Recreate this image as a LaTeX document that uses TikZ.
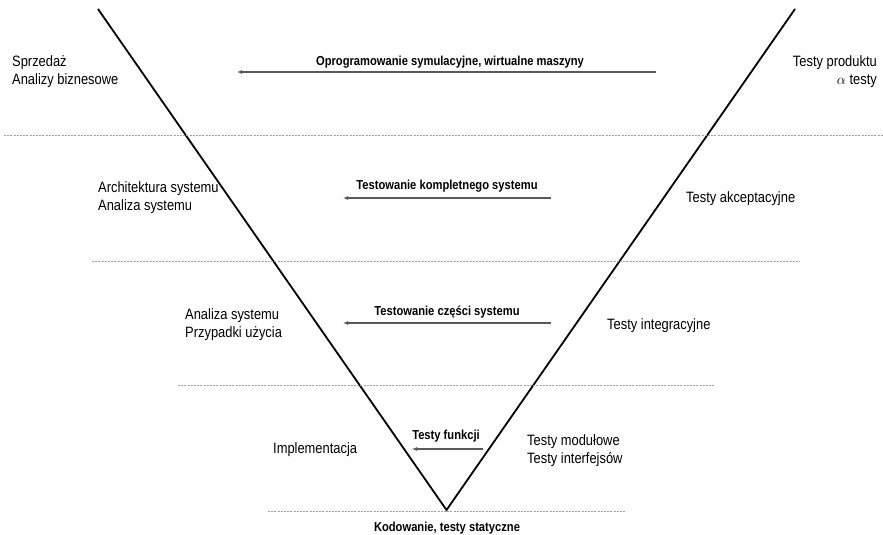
\documentclass[tikz,border=0pt]{standalone}
\usepackage{fontspec}
\setmainfont{Liberation Sans}[FakeStretch=0.86]
\usetikzlibrary{arrows.meta}
\tikzset{
  vline/.style={line width=1.8pt, black},
  level/.style={gray!75, line width=0.9pt, dash pattern=on 2pt off 1.2pt},
  flow/.style={draw=black!65, line width=1.3pt, -{Latex[length=5pt,width=4pt]}},
  phase/.style={inner sep=0pt, font=\fontsize{15}{18}\selectfont, align=left},
  phaser/.style={inner sep=0pt, font=\fontsize{15}{18}\selectfont, align=right},
  flowlabel/.style={inner sep=0pt, font=\fontsize{13}{15}\selectfont\bfseries, anchor=base}
}
\begin{document}
\begin{tikzpicture}[x=1pt,y=-1pt]
\useasboundingbox (0,0) rectangle (883,535);
% V shape
\coordinate (vtl) at (98,9);
\coordinate (vb) at (446.5,510);
\coordinate (vtr) at (795,9);
\draw[vline, line join=miter] (vtl) -- (vb) -- (vtr);
% level lines
\coordinate (l1a) at (4,135); \coordinate (l1b) at (883,135);
\coordinate (l2a) at (92,261); \coordinate (l2b) at (800,261);
\coordinate (l3a) at (178,385); \coordinate (l3b) at (715,385);
\coordinate (l4a) at (268,511); \coordinate (l4b) at (625,511);
\draw[level] (l1a) -- (l1b);
\draw[level] (l2a) -- (l2b);
\draw[level] (l3a) -- (l3b);
\draw[level] (l4a) -- (l4b);
% arrows
\coordinate (a1s) at (656,72); \coordinate (a1e) at (237,72);
\coordinate (a2s) at (551,198); \coordinate (a2e) at (343,198);
\coordinate (a3s) at (551,323); \coordinate (a3e) at (343,323);
\coordinate (a4s) at (483,449); \coordinate (a4e) at (412,449);
\draw[flow] (a1s) -- (a1e);
\draw[flow] (a2s) -- (a2e);
\draw[flow] (a3s) -- (a3e);
\draw[flow] (a4s) -- (a4e);
% arrow labels
\node[flowlabel] (f1) at (450,66) {Oprogramowanie symulacyjne, wirtualne maszyny};
\node[flowlabel] (f2) at (447,189) {Testowanie kompletnego systemu};
\node[flowlabel] (f3) at (447,315) {Testowanie części systemu};
\node[flowlabel] (f4) at (446,439) {Testy funkcji};
\node[flowlabel] (f5) at (447,531) {Kodowanie, testy statyczne};
% left phases
\node[phase, anchor=west] (p1) at (12,72) {Sprzedaż\\Analizy biznesowe};
\node[phase, anchor=west] (p2) at (98,198) {Architektura systemu\\Analiza systemu};
\node[phase, anchor=west] (p3) at (185,325) {Analiza systemu\\Przypadki użycia};
\node[phase, anchor=west] (p4) at (273,450) {Implementacja};
% right phases
\node[phaser, anchor=east] (t1) at (877,72) {Testy produktu\\$\alpha$ testy};
\node[phase, anchor=west] (t2) at (686,199) {Testy akceptacyjne};
\node[phase, anchor=west] (t3) at (607,326) {Testy integracyjne};
\node[phase, anchor=west] (t4) at (527,451) {Testy modułowe\\Testy interfejsów};
\end{tikzpicture}
\end{document}
